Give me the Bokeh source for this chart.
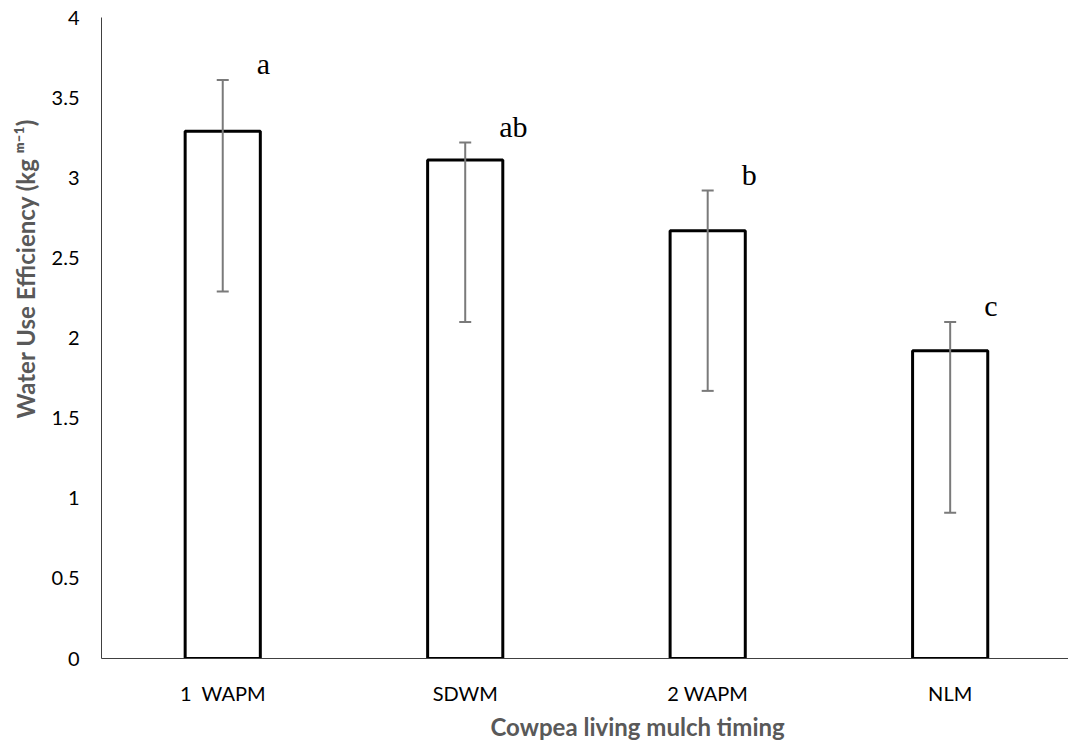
from bokeh.plotting import figure
from bokeh.models import Range1d, FixedTicker, Whisker, ColumnDataSource, Title, TeeHead
from bokeh.core.properties import value
from bokeh.embed import file_html
from bokeh.resources import INLINE

# ---- data ----
categories = ["1\u2002WAPM", "SDWM", "2 WAPM", "NLM"]
wue = [3.29, 3.11, 2.67, 1.92]
err_upper = [3.61, 3.22, 2.92, 2.10]
err_lower = [2.29, 2.10, 1.67, 0.91]
letters = ["a", "ab", "b", "c"]
y_ticks = [0, 0.5, 1, 1.5, 2, 2.5, 3, 3.5, 4]
y_tick_labels = ["0", "0.5", "1", "1.5", "2", "2.5", "3", "3.5", "4"]
x_title = "Cowpea living mulch timing"
y_title = "Water Use Efficiency (kg \u1d50\u207b\u00b9)"

positions = list(range(1, len(categories) + 1))
src = ColumnDataSource(dict(x=positions, top=wue, upper=err_upper,
                            lower=err_lower, letter=letters))

TICK_FONT = "Lato"
TITLE_COLOR = "#595959"
W, H = 1068, 742

p = figure(width=W, height=H, output_backend="svg", toolbar_location=None,
           x_range=Range1d(0.5, 4.488), y_range=Range1d(0, 4),
           min_border_left=101, min_border_right=0, min_border_top=17,
           min_border_bottom=82)
p.outline_line_color = None
p.xgrid.grid_line_color = None
p.ygrid.grid_line_color = None
p.background_fill_color = "white"
p.border_fill_color = "white"

p.vbar(x="x", top="top", width=0.31, source=src, fill_color="white",
       line_color="black", line_width=3)

err_col = "#7a7a7a"
w = Whisker(base="x", upper="upper", lower="lower", source=src,
            line_color=err_col, line_width=2, level="overlay",
            upper_head=TeeHead(size=12, line_color=err_col, line_width=2),
            lower_head=TeeHead(size=12, line_color=err_col, line_width=2))
p.add_layout(w)

p.text(x="x", y="upper", text="letter", source=src, x_offset=34, y_offset=-16,
       text_font=value("Liberation Serif"), text_font_size="30px",
       text_color="black", text_align="left", text_baseline="alphabetic")

for ax in (p.xaxis[0], p.yaxis[0]):
    ax.axis_line_color = "#404040"
    ax.axis_line_width = 1
    ax.major_tick_out = 0
    ax.major_tick_in = 0
    ax.minor_tick_out = 0
    ax.minor_tick_in = 0
    ax.major_label_text_font = TICK_FONT
    ax.major_label_text_font_size = "20px"
    ax.major_label_text_color = "black"

p.xaxis.ticker = FixedTicker(ticks=positions)
p.xaxis.major_label_overrides = {k: v for k, v in zip(positions, categories)}
p.xaxis.major_label_standoff = 22
p.yaxis.ticker = FixedTicker(ticks=y_ticks)
p.yaxis.major_label_overrides = {k: v for k, v in zip(y_ticks, y_tick_labels)}
p.yaxis.major_label_standoff = 22

# axis titles as side-panel titles (not clipped by the frame)
p.add_layout(Title(text=x_title, align="left", offset=389, standoff=4,
                   text_font=TICK_FONT, text_font_size="24px",
                   text_font_style="bold", text_color=TITLE_COLOR), "below")
p.add_layout(Title(text=y_title, align="left", offset=240, standoff=14,
                   vertical_align="top",
                   text_font=TICK_FONT, text_font_size="24px",
                   text_font_style="bold", text_color=TITLE_COLOR), "left")

open("out.html", "w").write(file_html(p, INLINE))
